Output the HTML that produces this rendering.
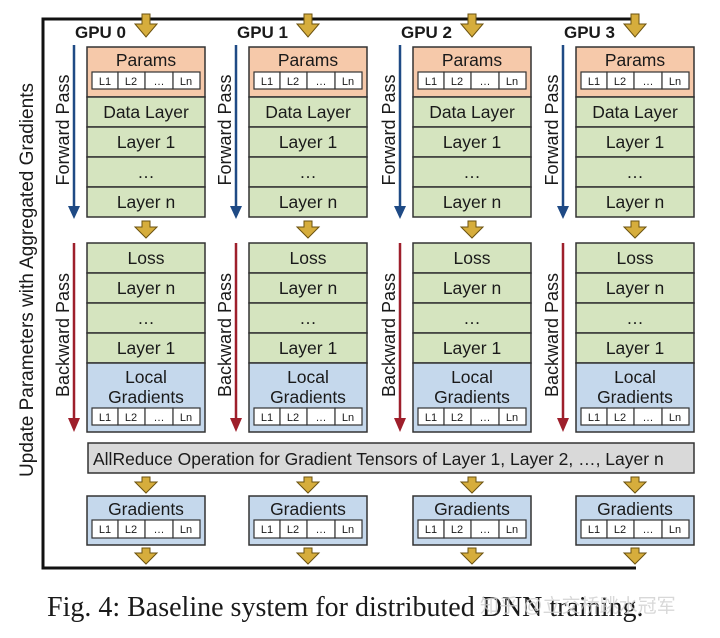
<!DOCTYPE html>
<html><head><meta charset="utf-8"><style>
html,body{margin:0;padding:0;background:#fff;}
svg{display:block;}
text{font-family:"Liberation Sans",Arial,sans-serif;fill:#1a1a1a;}
.t{font-size:17.5px;text-anchor:middle;}
.c{font-size:11px;text-anchor:middle;}
.g{font-size:17px;font-weight:bold;}
.r{font-size:18px;text-anchor:middle;}
.p{fill:#f6c9aa;stroke:#333;stroke-width:1.5;}
.gr{fill:#d5e4bf;stroke:#333;stroke-width:1.5;}
.b{fill:#c5d8ec;stroke:#333;stroke-width:1.5;}
.w{fill:#fff;stroke:#333;stroke-width:1.2;}
.ar{fill:#d6ad3c;stroke:#6b5210;stroke-width:1;}
</style></head><body>
<svg width="720" height="638" viewBox="0 0 720 638" xmlns="http://www.w3.org/2000/svg">
<path d="M637,19 L43,19 L43,568 L636,568" fill="none" stroke="#111" stroke-width="3"/>
<text class="r" transform="translate(33,280) rotate(-90)" style="font-size:19px">Update Parameters with Aggregated Gradients</text>

<rect x="88" y="443" width="606" height="30" fill="#d9d9d9" stroke="#333" stroke-width="1.5"/>
<text x="93" y="465" style="font-size:17.5px">AllReduce Operation for Gradient Tensors of Layer 1, Layer 2, …, Layer n</text>

<g transform="translate(0,0)">
<text class="g" x="75" y="38">GPU 0</text>
<path class="ar" d="M142,14 h8 v10 h7 l-11,13 l-11,-13 h7 z"/>
<line x1="74" y1="45" x2="74" y2="208" stroke="#1f4a85" stroke-width="2.5"/><path d="M68,206 L80,206 L74,219 Z" fill="#1f4a85"/>
<text class="r" transform="translate(69,130) rotate(-90)">Forward Pass</text>
<line x1="74" y1="243" x2="74" y2="420" stroke="#9e1f2b" stroke-width="2.5"/><path d="M68,418 L80,418 L74,432 Z" fill="#9e1f2b"/>
<text class="r" transform="translate(69,335) rotate(-90)">Backward Pass</text>
<rect class="p" x="87" y="47" width="118" height="50"/><text class="t" x="146" y="66">Params</text>
<rect class="w" x="92" y="72" width="26" height="17"/><rect class="w" x="118" y="72" width="27" height="17"/><rect class="w" x="145" y="72" width="28" height="17"/><rect class="w" x="173" y="72" width="27" height="17"/>
<text class="c" x="105" y="85">L1</text><text class="c" x="131" y="85">L2</text><text class="c" x="159" y="85">…</text><text class="c" x="186" y="85">Ln</text>
<rect class="gr" x="87" y="97" width="118" height="30"/><text class="t" x="146" y="118">Data Layer</text>
<rect class="gr" x="87" y="127" width="118" height="30"/><text class="t" x="146" y="148">Layer 1</text>
<rect class="gr" x="87" y="157" width="118" height="30"/><text class="t" x="146" y="178">…</text>
<rect class="gr" x="87" y="187" width="118" height="30"/><text class="t" x="146" y="208">Layer n</text>
<path class="ar" d="M142,221 h8 v6 h7 l-11,11 l-11,-11 h7 z"/>
<rect class="gr" x="87" y="243" width="118" height="30"/><text class="t" x="146" y="264">Loss</text>
<rect class="gr" x="87" y="273" width="118" height="30"/><text class="t" x="146" y="294">Layer n</text>
<rect class="gr" x="87" y="303" width="118" height="30"/><text class="t" x="146" y="324">…</text>
<rect class="gr" x="87" y="333" width="118" height="30"/><text class="t" x="146" y="354">Layer 1</text>
<rect class="b" x="87" y="363" width="118" height="69"/><text class="t" x="146" y="383">Local</text><text class="t" x="146" y="403">Gradients</text>
<rect class="w" x="92" y="408" width="26" height="17"/><rect class="w" x="118" y="408" width="27" height="17"/><rect class="w" x="145" y="408" width="28" height="17"/><rect class="w" x="173" y="408" width="27" height="17"/>
<text class="c" x="105" y="421">L1</text><text class="c" x="131" y="421">L2</text><text class="c" x="159" y="421">…</text><text class="c" x="186" y="421">Ln</text>
<path class="ar" d="M142,477 h8 v5 h7 l-11,11 l-11,-11 h7 z"/>
<rect class="b" x="87" y="496" width="118" height="49"/><text class="t" x="146" y="515">Gradients</text>
<rect class="w" x="92" y="520" width="26" height="18"/><rect class="w" x="118" y="520" width="27" height="18"/><rect class="w" x="145" y="520" width="28" height="18"/><rect class="w" x="173" y="520" width="27" height="18"/>
<text class="c" x="105" y="533">L1</text><text class="c" x="131" y="533">L2</text><text class="c" x="159" y="533">…</text><text class="c" x="186" y="533">Ln</text>
<path class="ar" d="M142,548 h8 v5 h7 l-11,11 l-11,-11 h7 z"/>
</g>

<g transform="translate(162,0)">
<text class="g" x="75" y="38">GPU 1</text>
<path class="ar" d="M142,14 h8 v10 h7 l-11,13 l-11,-13 h7 z"/>
<line x1="74" y1="45" x2="74" y2="208" stroke="#1f4a85" stroke-width="2.5"/><path d="M68,206 L80,206 L74,219 Z" fill="#1f4a85"/>
<text class="r" transform="translate(69,130) rotate(-90)">Forward Pass</text>
<line x1="74" y1="243" x2="74" y2="420" stroke="#9e1f2b" stroke-width="2.5"/><path d="M68,418 L80,418 L74,432 Z" fill="#9e1f2b"/>
<text class="r" transform="translate(69,335) rotate(-90)">Backward Pass</text>
<rect class="p" x="87" y="47" width="118" height="50"/><text class="t" x="146" y="66">Params</text>
<rect class="w" x="92" y="72" width="26" height="17"/><rect class="w" x="118" y="72" width="27" height="17"/><rect class="w" x="145" y="72" width="28" height="17"/><rect class="w" x="173" y="72" width="27" height="17"/>
<text class="c" x="105" y="85">L1</text><text class="c" x="131" y="85">L2</text><text class="c" x="159" y="85">…</text><text class="c" x="186" y="85">Ln</text>
<rect class="gr" x="87" y="97" width="118" height="30"/><text class="t" x="146" y="118">Data Layer</text>
<rect class="gr" x="87" y="127" width="118" height="30"/><text class="t" x="146" y="148">Layer 1</text>
<rect class="gr" x="87" y="157" width="118" height="30"/><text class="t" x="146" y="178">…</text>
<rect class="gr" x="87" y="187" width="118" height="30"/><text class="t" x="146" y="208">Layer n</text>
<path class="ar" d="M142,221 h8 v6 h7 l-11,11 l-11,-11 h7 z"/>
<rect class="gr" x="87" y="243" width="118" height="30"/><text class="t" x="146" y="264">Loss</text>
<rect class="gr" x="87" y="273" width="118" height="30"/><text class="t" x="146" y="294">Layer n</text>
<rect class="gr" x="87" y="303" width="118" height="30"/><text class="t" x="146" y="324">…</text>
<rect class="gr" x="87" y="333" width="118" height="30"/><text class="t" x="146" y="354">Layer 1</text>
<rect class="b" x="87" y="363" width="118" height="69"/><text class="t" x="146" y="383">Local</text><text class="t" x="146" y="403">Gradients</text>
<rect class="w" x="92" y="408" width="26" height="17"/><rect class="w" x="118" y="408" width="27" height="17"/><rect class="w" x="145" y="408" width="28" height="17"/><rect class="w" x="173" y="408" width="27" height="17"/>
<text class="c" x="105" y="421">L1</text><text class="c" x="131" y="421">L2</text><text class="c" x="159" y="421">…</text><text class="c" x="186" y="421">Ln</text>
<path class="ar" d="M142,477 h8 v5 h7 l-11,11 l-11,-11 h7 z"/>
<rect class="b" x="87" y="496" width="118" height="49"/><text class="t" x="146" y="515">Gradients</text>
<rect class="w" x="92" y="520" width="26" height="18"/><rect class="w" x="118" y="520" width="27" height="18"/><rect class="w" x="145" y="520" width="28" height="18"/><rect class="w" x="173" y="520" width="27" height="18"/>
<text class="c" x="105" y="533">L1</text><text class="c" x="131" y="533">L2</text><text class="c" x="159" y="533">…</text><text class="c" x="186" y="533">Ln</text>
<path class="ar" d="M142,548 h8 v5 h7 l-11,11 l-11,-11 h7 z"/>
</g>

<g transform="translate(326,0)">
<text class="g" x="75" y="38">GPU 2</text>
<path class="ar" d="M142,14 h8 v10 h7 l-11,13 l-11,-13 h7 z"/>
<line x1="74" y1="45" x2="74" y2="208" stroke="#1f4a85" stroke-width="2.5"/><path d="M68,206 L80,206 L74,219 Z" fill="#1f4a85"/>
<text class="r" transform="translate(69,130) rotate(-90)">Forward Pass</text>
<line x1="74" y1="243" x2="74" y2="420" stroke="#9e1f2b" stroke-width="2.5"/><path d="M68,418 L80,418 L74,432 Z" fill="#9e1f2b"/>
<text class="r" transform="translate(69,335) rotate(-90)">Backward Pass</text>
<rect class="p" x="87" y="47" width="118" height="50"/><text class="t" x="146" y="66">Params</text>
<rect class="w" x="92" y="72" width="26" height="17"/><rect class="w" x="118" y="72" width="27" height="17"/><rect class="w" x="145" y="72" width="28" height="17"/><rect class="w" x="173" y="72" width="27" height="17"/>
<text class="c" x="105" y="85">L1</text><text class="c" x="131" y="85">L2</text><text class="c" x="159" y="85">…</text><text class="c" x="186" y="85">Ln</text>
<rect class="gr" x="87" y="97" width="118" height="30"/><text class="t" x="146" y="118">Data Layer</text>
<rect class="gr" x="87" y="127" width="118" height="30"/><text class="t" x="146" y="148">Layer 1</text>
<rect class="gr" x="87" y="157" width="118" height="30"/><text class="t" x="146" y="178">…</text>
<rect class="gr" x="87" y="187" width="118" height="30"/><text class="t" x="146" y="208">Layer n</text>
<path class="ar" d="M142,221 h8 v6 h7 l-11,11 l-11,-11 h7 z"/>
<rect class="gr" x="87" y="243" width="118" height="30"/><text class="t" x="146" y="264">Loss</text>
<rect class="gr" x="87" y="273" width="118" height="30"/><text class="t" x="146" y="294">Layer n</text>
<rect class="gr" x="87" y="303" width="118" height="30"/><text class="t" x="146" y="324">…</text>
<rect class="gr" x="87" y="333" width="118" height="30"/><text class="t" x="146" y="354">Layer 1</text>
<rect class="b" x="87" y="363" width="118" height="69"/><text class="t" x="146" y="383">Local</text><text class="t" x="146" y="403">Gradients</text>
<rect class="w" x="92" y="408" width="26" height="17"/><rect class="w" x="118" y="408" width="27" height="17"/><rect class="w" x="145" y="408" width="28" height="17"/><rect class="w" x="173" y="408" width="27" height="17"/>
<text class="c" x="105" y="421">L1</text><text class="c" x="131" y="421">L2</text><text class="c" x="159" y="421">…</text><text class="c" x="186" y="421">Ln</text>
<path class="ar" d="M142,477 h8 v5 h7 l-11,11 l-11,-11 h7 z"/>
<rect class="b" x="87" y="496" width="118" height="49"/><text class="t" x="146" y="515">Gradients</text>
<rect class="w" x="92" y="520" width="26" height="18"/><rect class="w" x="118" y="520" width="27" height="18"/><rect class="w" x="145" y="520" width="28" height="18"/><rect class="w" x="173" y="520" width="27" height="18"/>
<text class="c" x="105" y="533">L1</text><text class="c" x="131" y="533">L2</text><text class="c" x="159" y="533">…</text><text class="c" x="186" y="533">Ln</text>
<path class="ar" d="M142,548 h8 v5 h7 l-11,11 l-11,-11 h7 z"/>
</g>

<g transform="translate(489,0)">
<text class="g" x="75" y="38">GPU 3</text>
<path class="ar" d="M142,14 h8 v10 h7 l-11,13 l-11,-13 h7 z"/>
<line x1="74" y1="45" x2="74" y2="208" stroke="#1f4a85" stroke-width="2.5"/><path d="M68,206 L80,206 L74,219 Z" fill="#1f4a85"/>
<text class="r" transform="translate(69,130) rotate(-90)">Forward Pass</text>
<line x1="74" y1="243" x2="74" y2="420" stroke="#9e1f2b" stroke-width="2.5"/><path d="M68,418 L80,418 L74,432 Z" fill="#9e1f2b"/>
<text class="r" transform="translate(69,335) rotate(-90)">Backward Pass</text>
<rect class="p" x="87" y="47" width="118" height="50"/><text class="t" x="146" y="66">Params</text>
<rect class="w" x="92" y="72" width="26" height="17"/><rect class="w" x="118" y="72" width="27" height="17"/><rect class="w" x="145" y="72" width="28" height="17"/><rect class="w" x="173" y="72" width="27" height="17"/>
<text class="c" x="105" y="85">L1</text><text class="c" x="131" y="85">L2</text><text class="c" x="159" y="85">…</text><text class="c" x="186" y="85">Ln</text>
<rect class="gr" x="87" y="97" width="118" height="30"/><text class="t" x="146" y="118">Data Layer</text>
<rect class="gr" x="87" y="127" width="118" height="30"/><text class="t" x="146" y="148">Layer 1</text>
<rect class="gr" x="87" y="157" width="118" height="30"/><text class="t" x="146" y="178">…</text>
<rect class="gr" x="87" y="187" width="118" height="30"/><text class="t" x="146" y="208">Layer n</text>
<path class="ar" d="M142,221 h8 v6 h7 l-11,11 l-11,-11 h7 z"/>
<rect class="gr" x="87" y="243" width="118" height="30"/><text class="t" x="146" y="264">Loss</text>
<rect class="gr" x="87" y="273" width="118" height="30"/><text class="t" x="146" y="294">Layer n</text>
<rect class="gr" x="87" y="303" width="118" height="30"/><text class="t" x="146" y="324">…</text>
<rect class="gr" x="87" y="333" width="118" height="30"/><text class="t" x="146" y="354">Layer 1</text>
<rect class="b" x="87" y="363" width="118" height="69"/><text class="t" x="146" y="383">Local</text><text class="t" x="146" y="403">Gradients</text>
<rect class="w" x="92" y="408" width="26" height="17"/><rect class="w" x="118" y="408" width="27" height="17"/><rect class="w" x="145" y="408" width="28" height="17"/><rect class="w" x="173" y="408" width="27" height="17"/>
<text class="c" x="105" y="421">L1</text><text class="c" x="131" y="421">L2</text><text class="c" x="159" y="421">…</text><text class="c" x="186" y="421">Ln</text>
<path class="ar" d="M142,477 h8 v5 h7 l-11,11 l-11,-11 h7 z"/>
<rect class="b" x="87" y="496" width="118" height="49"/><text class="t" x="146" y="515">Gradients</text>
<rect class="w" x="92" y="520" width="26" height="18"/><rect class="w" x="118" y="520" width="27" height="18"/><rect class="w" x="145" y="520" width="28" height="18"/><rect class="w" x="173" y="520" width="27" height="18"/>
<text class="c" x="105" y="533">L1</text><text class="c" x="131" y="533">L2</text><text class="c" x="159" y="533">…</text><text class="c" x="186" y="533">Ln</text>
<path class="ar" d="M142,548 h8 v5 h7 l-11,11 l-11,-11 h7 z"/>
</g>

<text x="47" y="616" style="font-family:'Liberation Serif',serif;font-size:28px;">Fig. 4: Baseline system for distributed DNN training.</text>
<text x="480" y="612" style="font-family:'Liberation Sans','Noto Sans CJK SC',sans-serif;font-size:19px;fill:#cfcfcf;opacity:0.8">知乎 @立交桥跳水冠军</text>
</svg>
</body></html>
